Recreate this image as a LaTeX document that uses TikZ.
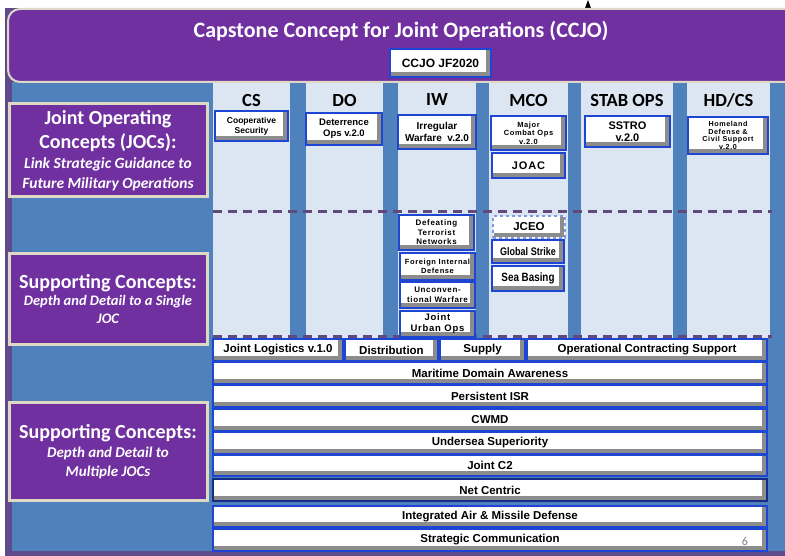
\documentclass[tikz,border=0pt]{standalone}
\usepackage{fontspec}
\setmainfont{Carlito}
\newfontfamily\boxfont{Liberation Sans}
\newfontfamily\boxfontsp[LetterSpace=8]{Liberation Sans}
\newfontfamily\boxfontnw[FakeStretch=0.82]{Liberation Sans}
\usetikzlibrary{positioning}

\definecolor{ccjopurple}{HTML}{7030A0}
\definecolor{framepurple}{HTML}{5F4B8B}
\definecolor{edgebeige}{HTML}{DDD9C4}
\definecolor{panelblue}{HTML}{4F81BD}
\definecolor{lanefill}{HTML}{DCE6F2}
\definecolor{boxblue}{HTML}{1E46D2}
\definecolor{boxshade}{HTML}{8C8C8C}
\definecolor{dashpurple}{HTML}{604A7B}

% fixed line distance in the side labels
\newcommand{\tightlines}{\setlength{\lineskiplimit}{-50pt}}

% concept box given by its corners: white face, grey shade right and below, then frame and text
\newcommand{\cbox}[7]{%
	\fill[white] (#2,#3) rectangle (#4,#5);
	\fill[boxshade] ([shift={(-5.5pt,-1.3pt)}]#4,#3) rectangle ([shift={(-1.3pt,1.3pt)}]#4,#5);
	\fill[boxshade] ([shift={(1.3pt,1.3pt)}]#2,#5) rectangle ([shift={(-1.3pt,5pt)}]#4,#5);
	\node[concept,#6,minimum width={#4-#2},minimum height={#5-#3}] (#1) at ({(#2+#4)/2},{(#3+#5)/2}) {#7};}

\begin{document}
\begin{tikzpicture}[
		x=1pt,y=-1pt,
		concept/.style={
			draw=boxblue,
			line width=2.6pt,
			inner sep=1pt,
			outer sep=0pt,
			align=center,
			text=black
		},
		sidebox/.style={
			fill=ccjopurple,
			draw=edgebeige,
			line width=3pt,
			text=white,
			align=center,
			inner sep=2pt
		},
		lane/.style={fill=lanefill},
		lanehead/.style={font=\bfseries\fontsize{18.5}{20}\selectfont,inner sep=0pt},
		sepline/.style={draw=dashpurple,line width=3pt,dash pattern=on 9pt off 6pt},
		rowtext/.style={font=\boxfont\bfseries\fontsize{11.5}{13}\selectfont},
		medtext/.style={font=\boxfont\bfseries\fontsize{9.5}{11}\selectfont},
		smalltext/.style={font=\boxfontsp\bfseries\fontsize{7.5}{8.5}\selectfont},
		narrowtext/.style={font=\boxfontnw\bfseries\fontsize{11}{12}\selectfont}
		]
		\useasboundingbox (0,0) rectangle (785,556);
		\clip (0,0) rectangle (785,556);
		\fill[white] (0,0) rectangle (785,556);
		\fill[framepurple] (5,8) rectangle (785,556);
		\fill[panelblue] (12,82) rectangle (785,551);
		\fill[black] (585,8) -- (588,0) -- (591,8) -- cycle;
		% Title
		\draw[fill=ccjopurple,draw=edgebeige,line width=2pt,rounded corners=12pt] (8,9) rectangle (805,82);
		\node[text=white,font=\bfseries\fontsize{22}{24}\selectfont] (title) at (401,31) {Capstone Concept for Joint Operations (CCJO)};
		\cbox{ccjo}{390}{49}{491}{77}{font=\boxfont\bfseries\fontsize{12}{13}\selectfont}{CCJO JF2020}
		% Columns
		\foreach \xa/\xb/\nm/\txt in {213/290/cs/CS,306/383/do/DO,398/476/iw/IW,489/568/mco/MCO,581/673/stab/STAB OPS,687/770/hdcs/{HD/CS}}
		{
			\fill[lane] (\xa,83) rectangle (\xb,338);
			\node[lanehead] (head-\nm) at ({(\xa+\xb)/2},100) {\txt};
		}
		\draw[sepline] (213,212) -- (772,212);
		\draw[sepline] (213,336) -- (772,336);
		%Left labels
		\node[sidebox,minimum width=198,minimum height=93,font=\bfseries\fontsize{20}{20}\selectfont\tightlines] (jocs) at (108,150.5)
			{Joint Operating\\[4pt]Concepts (JOCs):\\[0pt]
			\itshape\fontsize{15.5}{20}\selectfont Link Strategic Guidance to\\\itshape\fontsize{15.5}{20}\selectfont Future Military Operations};
		\node[sidebox,minimum width=198,minimum height=91,font=\bfseries\fontsize{20}{18}\selectfont\tightlines] (supsingle) at (108,299)
			{Supporting Concepts:\\[-1pt]
			\itshape\fontsize{14.5}{18}\selectfont Depth and Detail to a Single\\\itshape\fontsize{14.5}{18}\selectfont JOC};
		\node[sidebox,minimum width=198,minimum height=98,font=\bfseries\fontsize{20}{19}\selectfont\tightlines] (supmulti) at (108,451.5)
			{Supporting Concepts:\\
			\itshape\fontsize{15}{19}\selectfont Depth and Detail to\\\itshape\fontsize{15}{19}\selectfont Multiple JOCs};
		% Joint operating concepts
		\cbox{coopsec}{215}{111}{288}{141}{font=\boxfont\bfseries\fontsize{8.5}{10}\selectfont}{Cooperative\\Security}
		\cbox{detops}{306}{113}{382}{145}{medtext}{Deterrence\\Ops v.2.0}
		\cbox{irrwar}{398}{115}{476}{149}{font=\boxfont\bfseries\fontsize{10}{12}\selectfont}{Irregular\\Warfare~~v.2.0}
		\cbox{mcops}{491}{116}{566}{150}{smalltext}{Major\\Combat Ops\\v.2.0}
		\cbox{joac}{492}{153}{565}{178}{font=\boxfontsp\bfseries\fontsize{11}{12}\selectfont}{JOAC}
		\cbox{sstro}{585}{116}{670}{147}{font=\boxfont\bfseries\fontsize{11}{12}\selectfont}{SSTRO\\v.2.0}
		\cbox{hdcsjoc}{688}{117}{768}{154}{font=\boxfontsp\bfseries\fontsize{7.2}{7.8}\selectfont}{Homeland\\Defense \&\\Civil Support\\v.2.0}
		% Supporting concepts, single JOC
		\cbox{defterr}{399}{215}{474}{250}{font=\boxfontsp\bfseries\fontsize{8}{9.5}\selectfont}{Defeating\\Terrorist\\Networks}
		\cbox{fid}{400}{253}{475}{280}{smalltext}{Foreign Internal\\Defense}
		\cbox{uw}{400}{282}{475}{308}{font=\boxfontsp\bfseries\fontsize{8}{9.5}\selectfont}{Unconven-\\tional Warfare}
		\cbox{juo}{400}{311}{475}{337}{font=\boxfontsp\bfseries\fontsize{9.5}{11}\selectfont}{Joint\\Urban Ops}
		\cbox{jceo}{493}{216}{565}{238}{rowtext,dashed,draw=boxblue!55}{JCEO}
		\cbox{gstrike}{492}{240}{564}{263}{narrowtext}{Global Strike}
		\cbox{seabase}{492}{266}{564}{291}{font=\boxfontnw\bfseries\fontsize{12}{13}\selectfont}{Sea Basing}
		% Supporting concepts, multiple JOCs
		\cbox{jlog}{213}{339}{343}{361}{rowtext}{Joint Logistics v.1.0}
		\cbox{distr}{345}{339}{438}{361}{rowtext}{Distribution}
		\cbox{supply}{440}{339}{525}{361}{rowtext}{Supply}
		\cbox{ocs}{527}{339}{767}{361}{rowtext}{Operational Contracting Support}
		\foreach \ya/\yb/\nm/\txt in {362/384/mda/Maritime Domain Awareness,385/407/isr/Persistent ISR,409/431/cwmd/CWMD,432/454/usw/Undersea Superiority,455/476/jc2/Joint C2,479/501/netc/Net Centric,506/527/iamd/Integrated Air \& Missile Defense,529/551/scom/Strategic Communication}
			{\cbox{\nm}{213}{\ya}{767}{\yb}{rowtext}{\txt}}
		\draw[boxblue!65!black,line width=2.6pt] (netc.north west) rectangle (netc.south east);
		\node[text=gray,font=\fontsize{12}{12}\selectfont] (pnum) at (745,541) {6};
\end{tikzpicture}
\end{document}
